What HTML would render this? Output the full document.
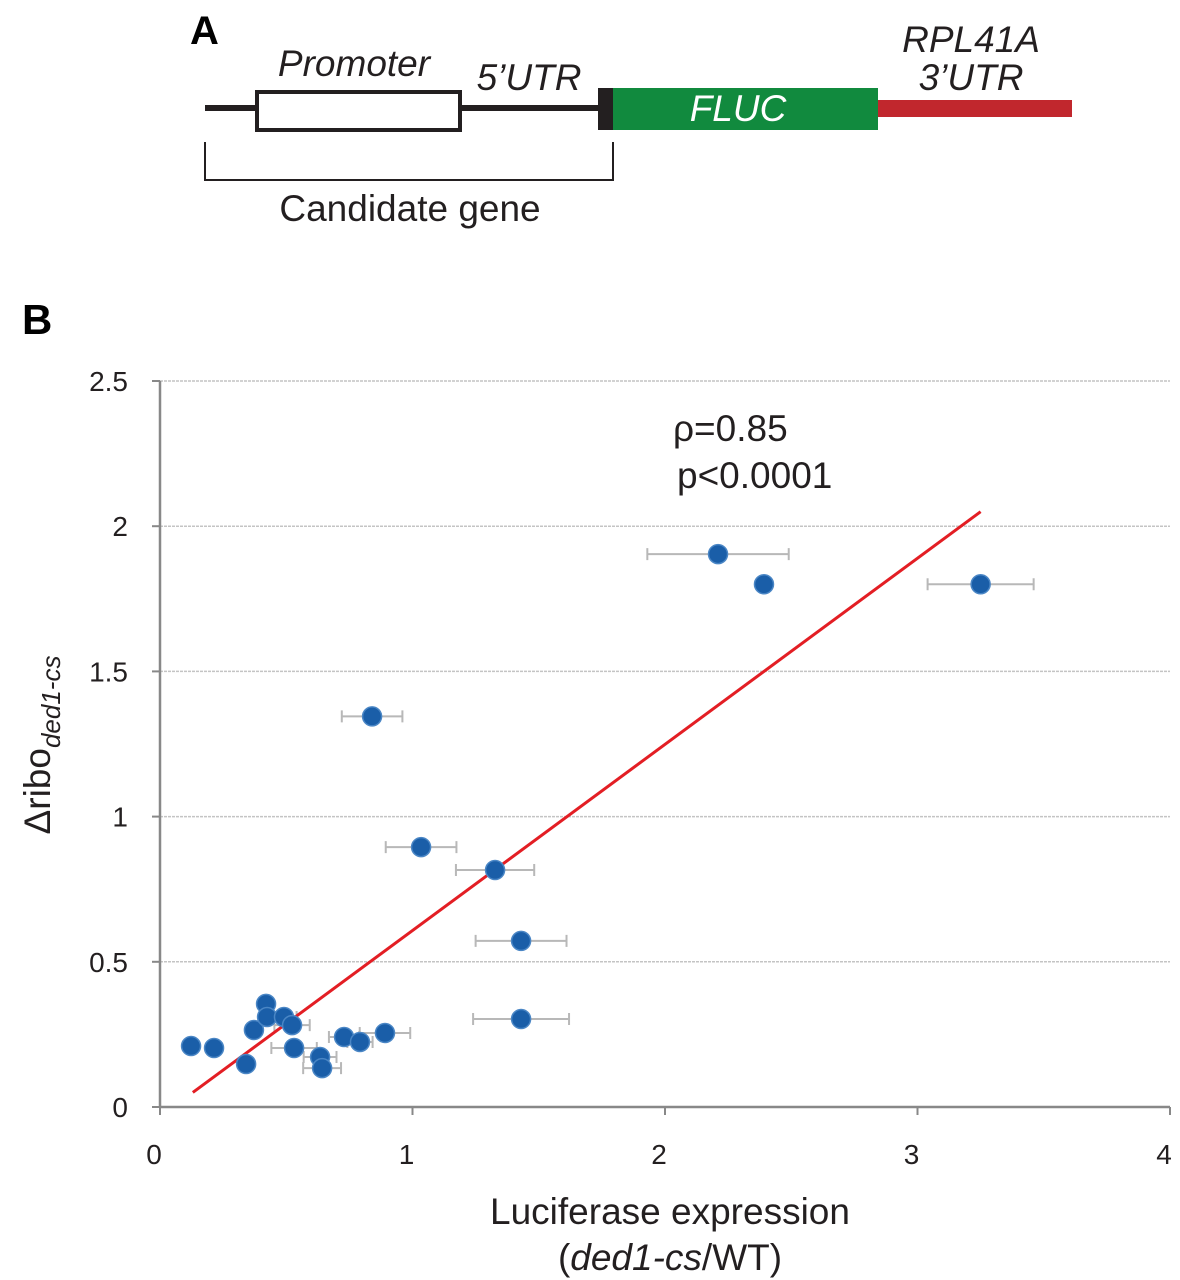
<!DOCTYPE html>
<html><head><meta charset="utf-8"><style>
body{margin:0;background:#fff}
svg{display:block;font-family:"Liberation Sans",Arial,sans-serif}
</style></head><body>
<svg id="fig" width="1180" height="1280" viewBox="0 0 1180 1280">
<g>
<text x="190" y="44" font-size="40" font-weight="bold">A</text>
<line x1="205" y1="108" x2="257" y2="108" stroke="#231f20" stroke-width="6"/>
<rect x="257" y="92" width="203" height="38" fill="#fff" stroke="#231f20" stroke-width="4"/>
<line x1="460" y1="108" x2="600" y2="108" stroke="#231f20" stroke-width="6"/>
<rect x="598" y="88" width="15" height="42" fill="#231f20"/>
<rect x="613" y="88" width="265" height="42" fill="#118a3e"/>
<rect x="878" y="100" width="194" height="17" fill="#c1272d"/>
<text x="354" y="76" font-size="37" font-style="italic" text-anchor="middle" fill="#231f20">Promoter</text>
<text x="529" y="90" font-size="37" font-style="italic" text-anchor="middle" fill="#231f20">5’UTR</text>
<text x="738" y="121" font-size="37" font-style="italic" text-anchor="middle" fill="#fff">FLUC</text>
<text x="971" y="52" font-size="37" font-style="italic" text-anchor="middle" fill="#231f20">RPL41A</text>
<text x="971" y="90" font-size="37" font-style="italic" text-anchor="middle" fill="#231f20">3’UTR</text>
<path d="M205 142 V180 H613 V142" fill="none" stroke="#231f20" stroke-width="2"/>
<text x="410" y="221" font-size="37" text-anchor="middle" fill="#231f20">Candidate gene</text>
</g>
<text x="22" y="334" font-size="42" font-weight="bold">B</text>
<g id="chart"></g>
<text x="673" y="441" font-size="37" fill="#231f20">ρ=0.85</text>
<text x="677" y="488" font-size="37" fill="#231f20">p&lt;0.0001</text>
<text transform="translate(50,745) rotate(-90)" font-size="37" text-anchor="middle" fill="#231f20">Δribo<tspan font-size="26" font-style="italic" dy="10">ded1-cs</tspan></text>
<text x="670" y="1224" font-size="37" text-anchor="middle" fill="#231f20">Luciferase expression</text>
<text x="670" y="1270" font-size="37" text-anchor="middle" fill="#231f20">(<tspan font-style="italic">ded1-cs</tspan>/WT)</text>
</svg>
<script>
const xVals=[0.123,0.214,0.341,0.372,0.42,0.424,0.491,0.523,0.531,0.634,0.642,0.729,0.792,0.891,0.84,1.034,1.327,1.43,1.43,2.21,2.392,3.25];
const yVals=[0.21,0.203,0.148,0.265,0.355,0.31,0.31,0.282,0.203,0.172,0.134,0.241,0.224,0.255,1.345,0.895,0.816,0.572,0.303,1.904,1.80,1.80];
const xErr=[0,0,0,0,0,0,0.05,0.07,0.09,0.065,0.075,0.06,0.05,0.1,0.12,0.14,0.155,0.18,0.19,0.28,0,0.21];
const xTicks=[0,1,2,3,4];
const yTicks=[0,0.5,1,1.5,2,2.5];
const fitLine=[[0.13,0.05],[3.25,2.05]];
const NS="http://www.w3.org/2000/svg";
const X=v=>160+v*252.5, Y=v=>1107-v*290.4;
const g=document.getElementById('chart');
function mk(t,a){const e=document.createElementNS(NS,t);for(const k in a)e.setAttribute(k,a[k]);g.appendChild(e);return e;}
yTicks.forEach(t=>{
 if(t>0){const l=mk('line',{x1:160,x2:1170,y1:Y(t),y2:Y(t),stroke:'#c4c4c4','stroke-width':1.5,'stroke-dasharray':'3,1'});
 
 }
 const tk=mk('line',{x1:152,x2:160,y1:Y(t),y2:Y(t),stroke:'#888','stroke-width':2});
 
 
 const tx=mk('text',{x:128,y:Y(t)+10,'font-size':28,'text-anchor':'end',fill:'#231f20'});tx.textContent=t;
 
 
});
xTicks.forEach(t=>{
 const tk=mk('line',{x1:X(t),x2:X(t),y1:1107,y2:1115,stroke:'#888','stroke-width':2});
 
 
 const tx=mk('text',{x:X(t)-6,y:1164,'font-size':28,'text-anchor':'middle',fill:'#231f20'});tx.textContent=t;
 
 
});
const ya=mk('line',{x1:160,x2:160,y1:Y(2.5),y2:1108,stroke:'#888','stroke-width':2.5});


const xa=mk('line',{x1:159,x2:1170,y1:1107,y2:1107,stroke:'#888','stroke-width':2.5});


xVals.forEach((v,i)=>{
 if(xErr[i]>0){const e=xErr[i],y=Y(yVals[i]);
  const p=mk('path',{d:`M${X(v-e)} ${y}H${X(v+e)}M${X(v-e)} ${y-6}V${y+6}M${X(v+e)} ${y-6}V${y+6}`,stroke:'#b8b8b8','stroke-width':2,fill:'none'});
  
  }
});
const fl=mk('line',{x1:X(fitLine[0][0]),y1:Y(fitLine[0][1]),x2:X(fitLine[1][0]),y2:Y(fitLine[1][1]),stroke:'#e31e24','stroke-width':3});


xVals.forEach((v,i)=>{
 const c=mk('circle',{cx:X(v),cy:Y(yVals[i]),r:9.5,fill:'#1a5ea8',stroke:'#4a86c5','stroke-width':1.5});
 
 
});
</script>
</body></html>
